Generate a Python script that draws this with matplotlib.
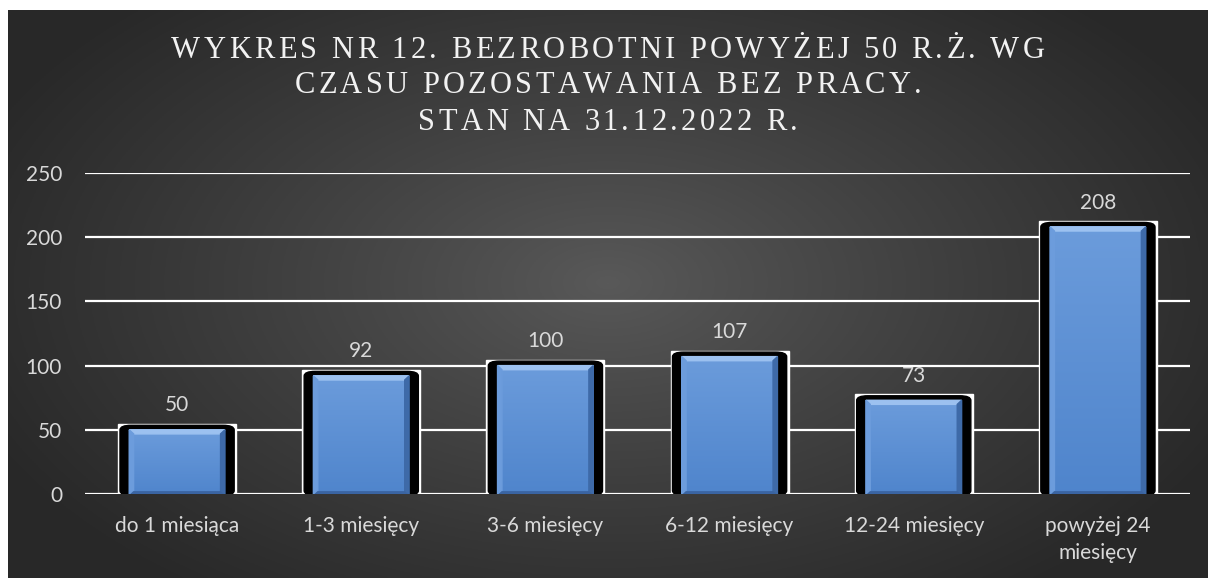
import numpy as np
import matplotlib.pyplot as plt
from matplotlib.patches import Rectangle, FancyBboxPatch, Polygon
from matplotlib.font_manager import FontProperties

# === data ===
categories = ["do 1 miesiąca", "1-3 miesięcy", "3-6 miesięcy", "6-12 miesięcy",
              "12-24 miesięcy", "powyżej 24\nmiesięcy"]
values = [50, 92, 100, 107, 73, 208]
title_lines = ["WYKRES NR 12. BEZROBOTNI POWYŻEJ 50 R.Ż. WG",
               "CZASU POZOSTAWANIA BEZ PRACY.",
               "STAN NA 31.12.2022 R."]

W, H = 1208, 578
fig = plt.figure(figsize=(W / 100, H / 100), dpi=100, facecolor="white")

# === dark radial background ===
bg = fig.add_axes([8 / W, 0, 1 - 8 / W, 1 - 10 / H])
bg.set_axis_off()
yy, xx = np.mgrid[0:1:300j, 0:1:600j]
r = np.sqrt(((xx - 0.5) / 0.75) ** 2 + ((yy - 0.48) / 0.9) ** 2)
r = np.clip(r / 0.75, 0, 1)
shade = 0.35 - 0.19 * r ** 0.9
bg.imshow(np.dstack([shade, shade, shade]), aspect="auto", extent=[0, 1, 0, 1])

# === title with letter spacing ===
renderer = fig.canvas.get_renderer()
tprop = FontProperties(family="Liberation Serif", size=22)
track = 3.4
for k, line in enumerate(title_lines):
    widths = [renderer.get_text_width_height_descent(c, tprop, ismath=False)[0] for c in line]
    total = sum(widths) + track * (len(line) - 1)
    x = W / 2 + 4 - total / 2
    ypix = H - (50 + 36 * k)
    for c, w in zip(line, widths):
        fig.text(x / W, ypix / H, c, ha="left", va="center", color="#f2f2f2",
                 fontproperties=tprop)
        x += w + track

# === bar axes ===
ax = fig.add_axes([85 / W, 84 / H, 1105 / W, 321 / H])
ax.patch.set_alpha(0)
ax.set_yticks(range(0, 251, 50))
for v in range(0, 251, 50):
    ax.axhline(v, color="white", lw=1.6, zorder=1)
for s in ax.spines.values():
    s.set_visible(False)
ax.tick_params(length=0, colors="#d9d9d9", labelsize=15)
ax.set_xticks(range(len(values)))
ax.set_xticklabels(categories, family="Lato", linespacing=1.45)
for lab in ax.get_yticklabels():
    lab.set_family("Lato")
ax.tick_params(axis="x", pad=15.5)
ax.tick_params(axis="y", pad=16.5)

bw, ww, kw = 0.52, 0.64, 0.62
bx, by = 0.024, 3.2
for i, v in enumerate(values):
    ax.add_patch(Rectangle((i - ww / 2, -1.2), ww, v + 5.7, color="white", zorder=2))
    ax.add_patch(FancyBboxPatch((i - kw / 2, -1), kw, v + 4.5,
                                boxstyle="round,pad=0,rounding_size=0.06",
                                mutation_aspect=60, color="black", zorder=3))
    x0, x1 = i - bw / 2, i + bw / 2
    # vertical gradient body
    grad = np.linspace(0, 1, 50).reshape(-1, 1)
    c_top = np.array([0.42, 0.61, 0.86])
    c_bot = np.array([0.31, 0.52, 0.80])
    img = c_bot + (c_top - c_bot) * grad
    ax.imshow(img[:, None, :].repeat(2, axis=1), origin="lower", aspect="auto",
              extent=[x0, x1, -1.5, v], zorder=4, interpolation="bilinear")
    # bevel edges
    ax.add_patch(Polygon([(x0, v), (x1, v), (x1 - bx, v - by), (x0 + bx, v - by)],
                         color="#9cc1f0", zorder=5))
    ax.add_patch(Polygon([(x0, v), (x0 + bx, v - by), (x0 + bx, -1.5 + by), (x0, -1.5)],
                         color="#6c9cdc", zorder=5))
    ax.add_patch(Polygon([(x1, v), (x1 - bx, v - by), (x1 - bx, -1.5 + by), (x1, -1.5)],
                         color="#3e6aa8", zorder=5))
    ax.add_patch(Polygon([(x0, -1.5), (x1, -1.5), (x1 - bx, -1.5 + by), (x0 + bx, -1.5 + by)],
                         color="#3a64a2", zorder=5))
    ax.text(i, v + 19, str(v), ha="center", va="center", color="#d9d9d9",
            family="Lato", fontsize=15, zorder=6)

ax.set_xlim(-0.5, len(values) - 0.5)
ax.set_ylim(0, 250)

fig.savefig("out.png", dpi=100, facecolor="white")
